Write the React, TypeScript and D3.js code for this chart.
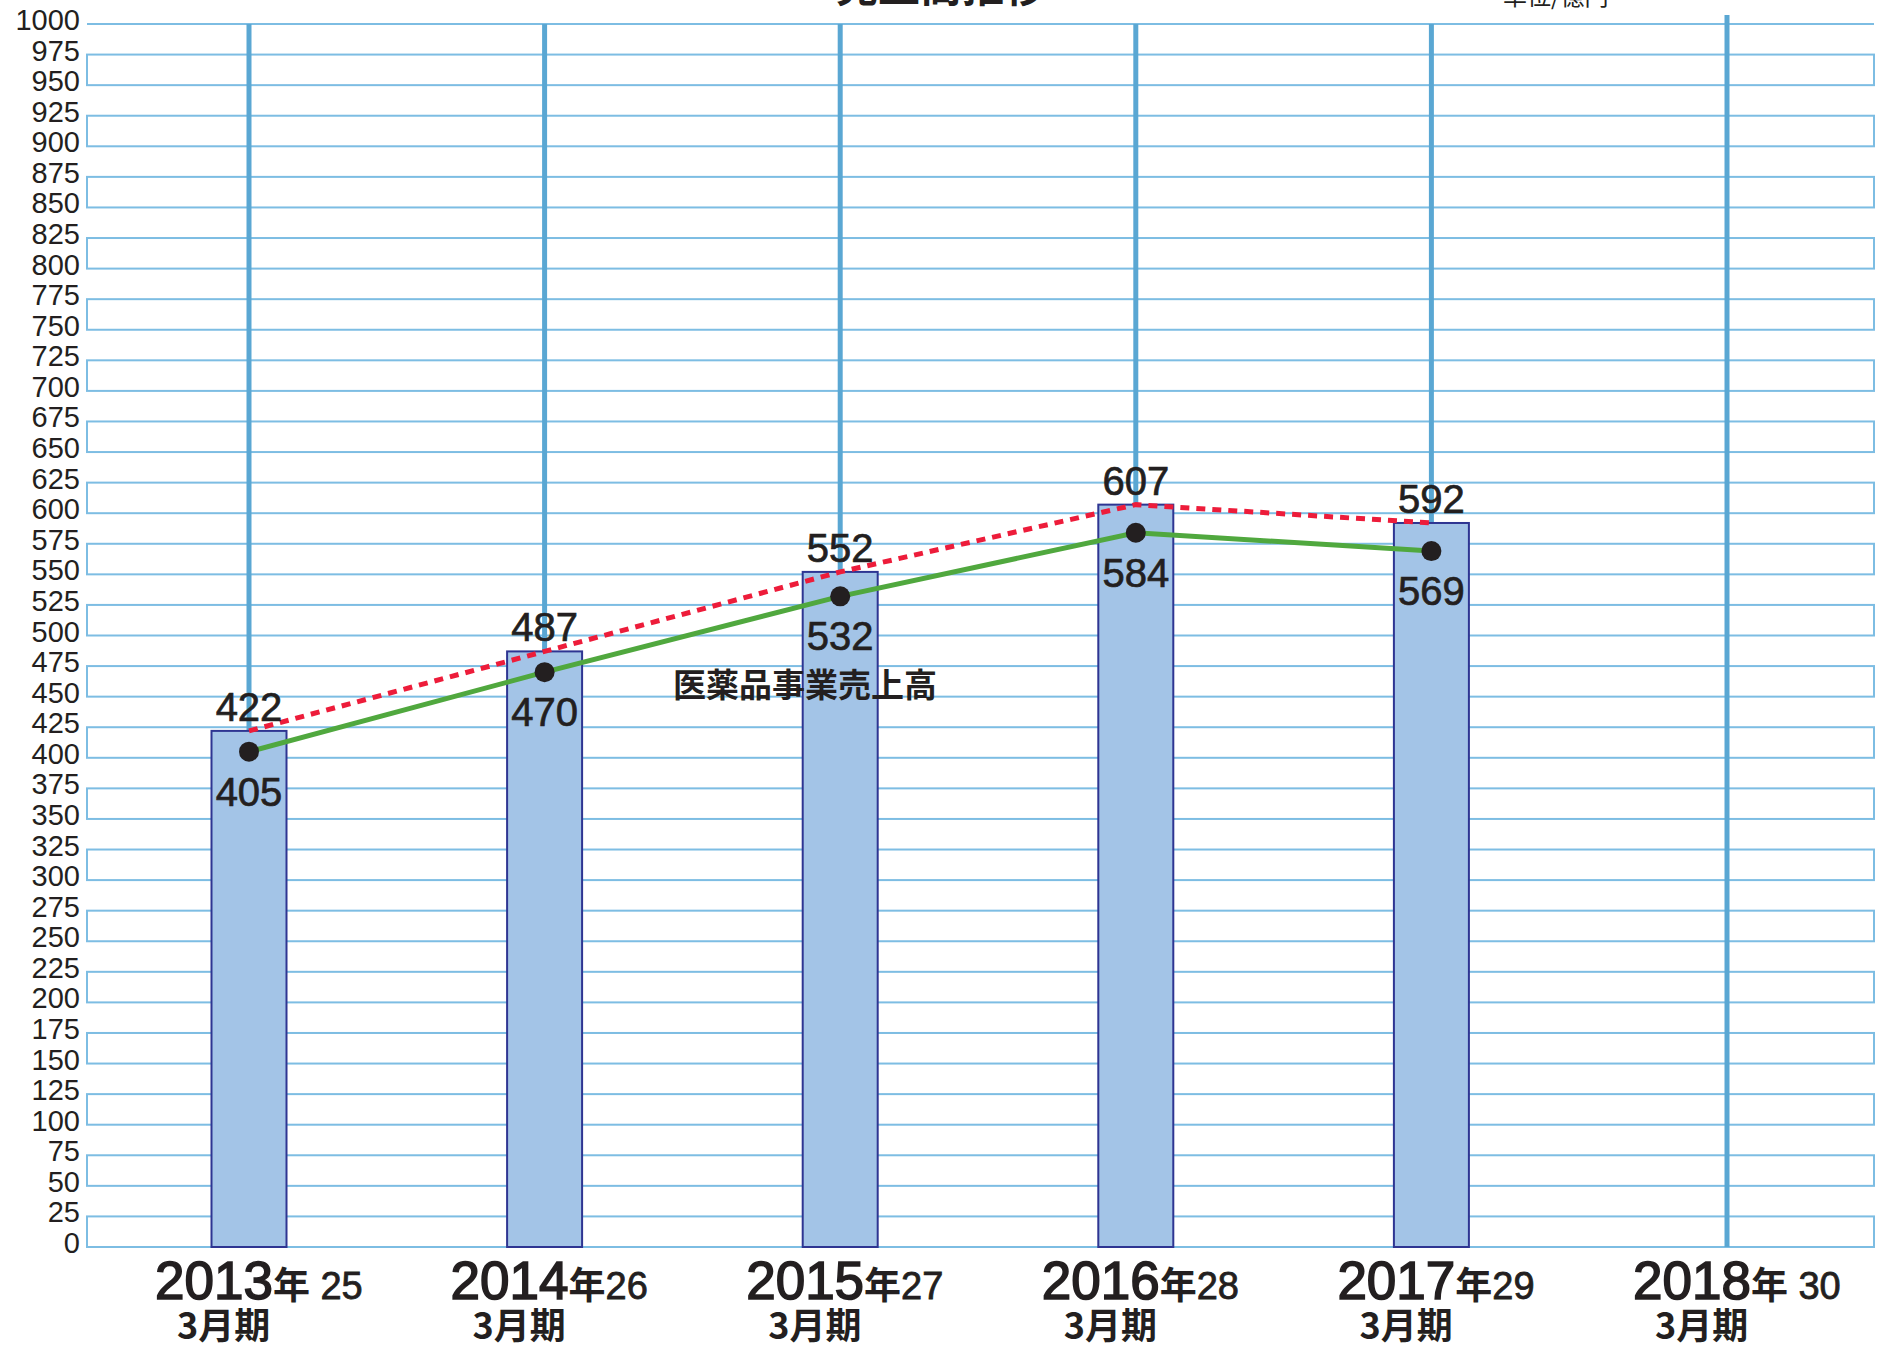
import React from 'react';
import * as d3 from 'd3';

// fiscal years (x axis)
const years = ['2013', '2014', '2015', '2016', '2017', '2018'];
const heisei = [' 25', '26', '27', '28', '29', ' 30'];
// total sales (bars + red dotted line), 億円
const totalSales = [422, 487, 552, 607, 592];
// pharma business sales (green line)
const pharmaSales = [405, 470, 532, 584, 569];
const yTicks = d3.range(0, 1001, 25);

const W = 1877;
const H = 1349;
const gridLeft = 87;
const gridRight = 1874;

const numFont = '"Liberation Sans", Arial, "Noto Sans CJK JP", sans-serif';
const cjkFont = '"Noto Sans CJK JP", "Liberation Sans", sans-serif';
const ink = '#231f20';

const App: React.FC = () => {
  const y = d3.scaleLinear().domain([0, 1000]).range([1247, 24]);
  const x = d3.scalePoint<string>().domain(years).range([249, 1727]);

  const barW = 75;
  const gridColor = '#7dbde3';
  const vColor = '#5aa7d3';

  const pts = (vals: number[]) =>
    vals.map((v, i) => [x(years[i]) as number, y(v)] as [number, number]);

  const line = d3.line<[number, number]>();

  // stacked bands 25+50k -> 50k, drawn as boxes
  const bands = yTicks.filter(t => t % 50 === 0 && t < 1000);

  return (
    <svg
      width={W}
      height={H}
      style={{ position: 'absolute', left: 0, top: 0, background: '#fff', display: 'block' }}
    >
      {/* title, cut off at the top */}
      <text x={941} y={2} textAnchor="middle" fontFamily={cjkFont} fontWeight="bold" fontSize={42} fill={ink}>
        売上高推移
      </text>
      <text x={1503} y={5} fontFamily={cjkFont} fontSize={24} fill={ink}>
        単位/億円
      </text>

      {/* grid */}
      <line x1={gridLeft} x2={gridRight} y1={y(1000)} y2={y(1000)} stroke={gridColor} strokeWidth={2} />
      {bands.map(t => (
        <rect
          key={t}
          x={gridLeft}
          y={y(t + 25)}
          width={gridRight - gridLeft}
          height={y(t) - y(t + 25)}
          fill="none"
          stroke={gridColor}
          strokeWidth={2}
        />
      ))}

      {/* y labels */}
      {yTicks.map(t => (
        <text key={t} x={80} y={y(t) + 6} textAnchor="end" fontFamily={numFont} fontSize={29} fill={ink}>
          {t}
        </text>
      ))}

      {/* vertical year lines */}
      {years.map((yr, i) => (
        <line
          key={yr}
          x1={x(yr)}
          x2={x(yr)}
          y1={i === years.length - 1 ? 15 : y(1000)}
          y2={y(0)}
          stroke={vColor}
          strokeWidth={5}
        />
      ))}

      {/* bars */}
      {totalSales.map((v, i) => (
        <rect
          key={i}
          x={(x(years[i]) as number) - barW / 2}
          y={y(v)}
          width={barW}
          height={y(0) - y(v)}
          fill="#a3c4e7"
          stroke="#2e3592"
          strokeWidth={2}
        />
      ))}

      {/* red dotted line (total) */}
      <path d={line(pts(totalSales)) || ''} fill="none" stroke="#ed1c3a" strokeWidth={5} strokeDasharray="9,7" />

      {/* green line (pharma) */}
      <path d={line(pts(pharmaSales)) || ''} fill="none" stroke="#50a83e" strokeWidth={5} />
      {pts(pharmaSales).map(([px, py], i) => (
        <circle key={i} cx={px} cy={py} r={10} fill={ink} />
      ))}

      {/* value labels */}
      {totalSales.map((v, i) => (
        <text
          key={'t' + i}
          x={x(years[i]) as number}
          y={y(v) - 10}
          textAnchor="middle"
          fontFamily={numFont}
          fontSize={40}
          fill={ink}
          stroke={ink}
          strokeWidth={0.7}
        >
          {v}
        </text>
      ))}
      {pharmaSales.map((v, i) => (
        <text
          key={'p' + i}
          x={x(years[i]) as number}
          y={y(v) + 54}
          textAnchor="middle"
          fontFamily={numFont}
          fontSize={40}
          fill={ink}
          stroke={ink}
          strokeWidth={0.7}
        >
          {v}
        </text>
      ))}

      <text x={673} y={697} fontFamily={cjkFont} fontWeight="bold" fontSize={33} fill={ink}>
        医薬品事業売上高
      </text>

      {/* x labels */}
      {years.map((yr, i) => {
        const cx = x(yr) as number;
        return (
          <g key={'x' + yr}>
            <text x={cx - 94} y={1299} fill={ink}>
              <tspan fontFamily={numFont} fontSize={53} stroke={ink} strokeWidth={1.6}>{yr}</tspan>
              <tspan fontFamily={cjkFont} fontWeight="bold" fontSize={37}>年</tspan>
              <tspan fontFamily={numFont} fontSize={38} stroke={ink} strokeWidth={0.8} style={{ whiteSpace: 'pre' }}>
                {heisei[i]}
              </tspan>
            </text>
            <text x={cx - 72} y={1339} fontFamily={cjkFont} fontWeight="bold" fontSize={36} fill={ink}>
              3月期
            </text>
          </g>
        );
      })}
    </svg>
  );
};

export default App;
